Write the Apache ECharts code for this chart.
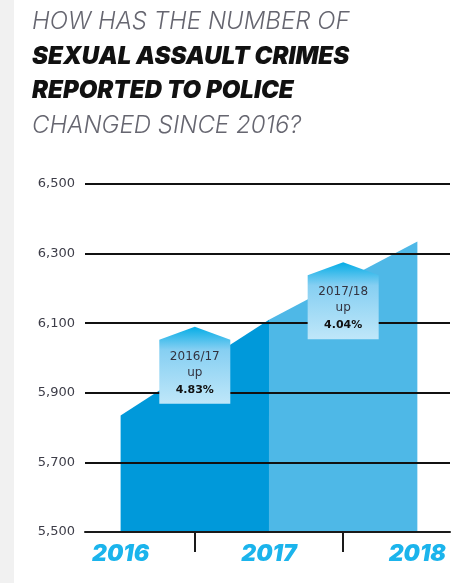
<!DOCTYPE html>
<html>
<head>
<meta charset="utf-8">
<script src="https://cdn.jsdelivr.net/npm/echarts@6/dist/echarts.min.js"></script>
<style>html,body{margin:0;padding:0;background:#fff}#c{width:461px;height:583px}</style>
</head>
<body>
<div id="c"></div>
<script>
// ---- data ----
var years = [2016, 2017, 2018];
var reported = [5835, 6110, 6335];
var yTicks = [5500, 5700, 5900, 6100, 6300, 6500];
var changePeriods = ['2016/17', '2017/18'];
var changeWords = ['up', 'up'];
var changePct = ['4.83%', '4.04%'];
var changeX = [2016.5, 2017.5];      // annotation anchor (between years)
var changeTop = [6090, 6275];        // annotation roof apex value
var titleLines = ['HOW HAS THE NUMBER OF', 'SEXUAL ASSAULT CRIMES', 'REPORTED TO POLICE', 'CHANGED SINCE 2016?'];
var segColors = ['#0099da', '#4eb8e7'];

var chart = echarts.init(document.getElementById('c'), null, {renderer: 'canvas'});

var areaSeries = [];
for (var i = 0; i < years.length - 1; i++) {
  areaSeries.push({
    type: 'line',
    data: [[years[i], reported[i]], [years[i + 1], reported[i + 1]]],
    showSymbol: false,
    lineStyle: {width: 0},
    itemStyle: {color: segColors[i]},
    areaStyle: {color: segColors[i], opacity: 1, origin: 'start'},
    z: 2,
    silent: true
  });
}

var boxData = changeX.map(function (x, i) { return [x, changeTop[i], i]; });

var option = {
  animation: false,
  backgroundColor: '#ffffff',
  title: {
    left: 32, top: 5, padding: 0,
    text: '{a|' + titleLines[0] + '}\n{b|' + titleLines[1] + '}\n{b|' + titleLines[2] + '}\n{a|' + titleLines[3] + '}',
    textStyle: {
      rich: {
        a: {fontFamily: 'Inter', fontSize: 24, fontWeight: 300, fontStyle: 'italic', color: '#666670', lineHeight: 34.5},
        b: {fontFamily: 'Inter', fontSize: 24, fontWeight: 900, fontStyle: 'italic', color: '#111111', lineHeight: 34.5}
      }
    }
  },
  graphic: [{
    type: 'rect', left: 0, top: 0, z: -10,
    shape: {width: 14, height: 583},
    style: {fill: '#f1f1f1'}
  }],
  grid: {left: 85, right: 11, top: 184, bottom: 51},
  xAxis: {
    type: 'value', min: 2015.76, max: 2018.22,
    axisLine: {show: true, lineStyle: {color: '#1a1a1a', width: 2}},
    axisTick: {show: true, customValues: [2016.5, 2017.5], length: 20, inside: false, lineStyle: {color: '#1a1a1a', width: 2}},
    axisLabel: {
      customValues: years, margin: 11,
      formatter: function (v) { return String(v); },
      fontFamily: 'Inter', fontSize: 23, fontWeight: 900, fontStyle: 'italic', color: '#1bb4ec'
    },
    splitLine: {show: false},
    z: 3
  },
  yAxis: {
    type: 'value', min: yTicks[0], max: yTicks[yTicks.length - 1], interval: 200,
    axisLine: {show: false}, axisTick: {show: false},
    axisLabel: {
      margin: 10, fontFamily: 'DejaVu Sans', fontSize: 13, color: '#3d3d48',
      formatter: function (v) { return v.toLocaleString('en-US'); }
    },
    splitLine: {show: true, lineStyle: {color: '#111111', width: 2}},
    z: 3
  },
  series: areaSeries.concat([{
    type: 'custom',
    z: 10,
    silent: true,
    clip: false,
    data: boxData,
    renderItem: function (params, api) {
      var p = api.coord([api.value(0), api.value(1)]);
      var idx = api.value(2);
      var cx = p[0], py = p[1], hw = 35.5;
      return {
        type: 'group',
        children: [{
          type: 'polygon',
          shape: {points: [[cx, py], [cx + hw, py + 13], [cx + hw, py + 77], [cx - hw, py + 77], [cx - hw, py + 13]]},
          style: {
            fill: new echarts.graphic.LinearGradient(0, 0, 0, 1, [
              {offset: 0, color: '#05ade6'},
              {offset: 0.3, color: '#86cff2'},
              {offset: 1, color: '#bfe7f9'}
            ])
          }
        }, {
          type: 'text', x: cx, y: py + 30,
          style: {text: changePeriods[idx], align: 'center', verticalAlign: 'middle', fontFamily: 'DejaVu Sans', fontSize: 12, fill: '#333340'}
        }, {
          type: 'text', x: cx, y: py + 46,
          style: {text: changeWords[idx], align: 'center', verticalAlign: 'middle', fontFamily: 'DejaVu Sans', fontSize: 12, fill: '#333340'}
        }, {
          type: 'text', x: cx, y: py + 63,
          style: {text: changePct[idx], align: 'center', verticalAlign: 'middle', fontFamily: 'DejaVu Sans', fontSize: 11, fontWeight: 'bold', fill: '#111111'}
        }]
      };
    }
  }])
};
chart.setOption(option);
</script>
</body>
</html>
